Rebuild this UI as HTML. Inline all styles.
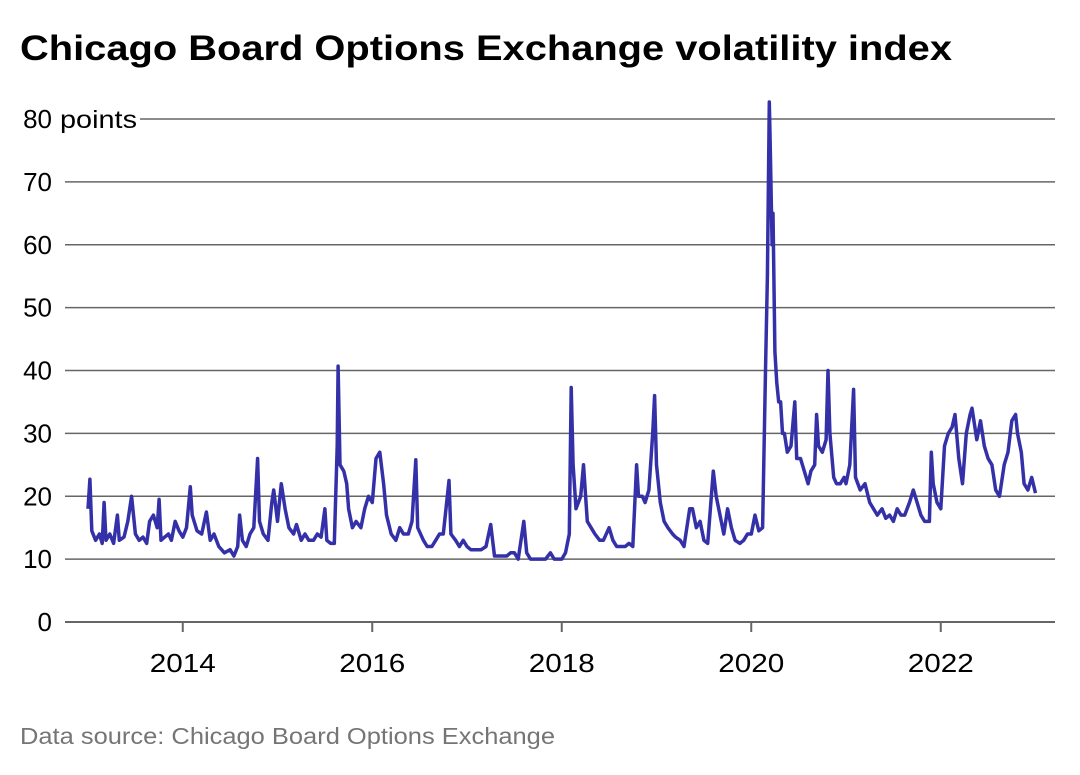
<!DOCTYPE html>
<html><head><meta charset="utf-8"><style>
body{margin:0;background:#fff;width:1080px;height:770px;overflow:hidden;font-family:"Liberation Sans",sans-serif}
</style></head><body>
<svg width="1080" height="770">
<text x="20" y="60" font-size="35" font-weight="bold" fill="#000" textLength="932" lengthAdjust="spacingAndGlyphs">Chicago Board Options Exchange volatility index</text>
<g id="grid"></g><g id="yl"></g><g id="xl"></g>
<path id="line" fill="none" stroke="#3431a8" stroke-width="3.5" stroke-linejoin="round"/>
<text x="20" y="744" font-size="23" fill="#757575" textLength="535" lengthAdjust="spacingAndGlyphs">Data source: Chicago Board Options Exchange</text>
</svg>
<script>
const yTicks=[0,10,20,30,40,50,60,70,80];
const xTicks=[2014,2016,2018,2020,2022];
const dates=[2013.0,2013.02,2013.04,2013.08,2013.12,2013.15,2013.17,2013.19,2013.23,2013.27,2013.31,2013.33,2013.38,2013.42,2013.46,2013.48,2013.5,2013.54,2013.58,2013.62,2013.65,2013.69,2013.73,2013.75,2013.77,2013.81,2013.85,2013.88,2013.92,2013.96,
2014.0,2014.04,2014.08,2014.1,2014.15,2014.2,2014.25,2014.29,2014.33,2014.38,2014.44,2014.5,2014.54,2014.58,2014.6,2014.63,2014.67,2014.71,2014.75,2014.79,2014.81,2014.85,2014.9,2014.94,2014.96,
2015.0,2015.04,2015.08,2015.12,2015.17,2015.2,2015.25,2015.29,2015.33,2015.38,2015.42,2015.46,2015.5,2015.52,2015.56,2015.6,2015.63,2015.64,2015.66,2015.7,2015.73,2015.75,2015.79,2015.83,2015.88,2015.92,2015.96,
2016.0,2016.04,2016.08,2016.12,2016.15,2016.2,2016.25,2016.29,2016.33,2016.38,2016.42,2016.46,2016.48,2016.54,2016.58,2016.63,2016.67,2016.71,2016.75,2016.81,2016.83,2016.88,2016.92,2016.96,
2017.0,2017.04,2017.1,2017.15,2017.2,2017.25,2017.29,2017.33,2017.38,2017.42,2017.46,2017.5,2017.54,2017.6,2017.63,2017.67,2017.71,2017.75,2017.79,2017.83,2017.88,2017.92,2017.96,
2018.0,2018.04,2018.08,2018.1,2018.12,2018.15,2018.2,2018.23,2018.27,2018.31,2018.35,2018.4,2018.44,2018.5,2018.54,2018.58,2018.62,2018.67,2018.71,2018.75,2018.79,2018.81,2018.85,2018.88,2018.92,2018.96,2018.98,
2019.0,2019.04,2019.08,2019.12,2019.17,2019.2,2019.25,2019.29,2019.35,2019.38,2019.42,2019.46,2019.5,2019.54,2019.6,2019.63,2019.67,2019.71,2019.75,2019.79,2019.83,2019.88,2019.92,2019.96,
2020.0,2020.04,2020.08,2020.12,2020.15,2020.17,2020.19,2020.2,2020.22,2020.23,2020.25,2020.27,2020.29,2020.31,2020.33,2020.35,2020.38,2020.42,2020.46,2020.48,2020.52,2020.56,2020.6,2020.63,2020.67,2020.69,2020.71,2020.75,2020.79,2020.81,2020.83,2020.87,2020.9,2020.94,2020.98,
2021.0,2021.04,2021.08,2021.1,2021.15,2021.2,2021.25,2021.29,2021.33,2021.38,2021.42,2021.46,2021.5,2021.54,2021.58,2021.62,2021.67,2021.71,2021.75,2021.79,2021.83,2021.88,2021.9,2021.92,2021.96,
2022.0,2022.04,2022.08,2022.12,2022.15,2022.19,2022.23,2022.27,2022.31,2022.33,2022.38,2022.42,2022.46,2022.5,2022.54,2022.58,2022.62,2022.67,2022.71,2022.75,2022.79,2022.81,2022.85,2022.88,2022.92,2022.96,2023.0];
const values=[18,22.7,14.5,13,14,12.5,19,13,14,12.5,17,13,13.5,16,20,17,14,13,13.5,12.5,16,17,15,19.5,13,13.5,14,13,16,14.5,
13.5,15,21.5,17,14.5,14,17.5,13,14,12,11,11.5,10.5,12,17,13,12,14,15,26,16,14,13,19,21,
16,22,18,15,14,15.5,13,14,13,13,14,13.5,18,13,12.5,12.5,28,40.7,25,24,22,18,15,16,15,18,20,
19,26,27,22,17,14,13,15,14,14,16,25.8,15,13,12,12,13,14,14,22.5,14,13,12,13,
12,11.5,11.5,11.5,12,15.5,10.5,10.5,10.5,10.5,11,11,10,16,11,10,10,10,10,10,11,10,10,
10,11,14,37.3,25,18,20,25,16,15,14,13,13,15,13,12,12,12,12.5,12,25,20,20,19,21,30,36,
25,19,16,15,14,13.5,13,12,18,18,15,16,13,12.5,24,20,17,14,18,15,13,12.5,13,14,
14,17,14.5,15,40,55,82.7,76,60,65,43,38,35,35,30,30,27,28,35,26,26,24,22,24,25,33,28,27,29,40,30,23,22,22,23,
22,25,37,23,21,22,19,18,17,18,16.5,17,16,18,17,17,19,21,19,17,16,16,27,22,19,
18,28,30,31,33,26,22,30,33,34,29,32,28,26,25,21,20,25,27,32,33,30,27,22,21,23,20.5];
const NS='http://www.w3.org/2000/svg';
const x=d=>88+(d-2013)*94.75;
const y=v=>622-v*6.2875;
function mk(t,a,p){const e=document.createElementNS(NS,t);for(const k in a)e.setAttribute(k,a[k]);p.appendChild(e);return e;}
const grid=document.getElementById('grid'),yl=document.getElementById('yl'),xl=document.getElementById('xl');
yTicks.forEach(v=>{
  const g=mk('line',{x1:v===80?140:65,x2:1055,y1:y(v),y2:y(v),stroke:'#666','stroke-width':v===0?2:1.5},grid);
  
  
  const t=mk('text',{x:52,y:y(v)+9,'font-size':26,'text-anchor':'end',fill:'#000'},yl);
  t.textContent=v;
  
  
});
const pl=mk('text',{x:60,y:y(80)+9,'font-size':25,fill:'#000',textLength:77,lengthAdjust:'spacingAndGlyphs'},yl);
pl.textContent='points';


xTicks.forEach(d=>{
  const l=mk('line',{x1:x(d),x2:x(d),y1:622,y2:632,stroke:'#666','stroke-width':2},xl);
  
  
  const t=mk('text',{x:x(d),y:672,'font-size':26,'text-anchor':'middle',fill:'#000',textLength:66,lengthAdjust:'spacingAndGlyphs'},xl);
  t.textContent=d;
  
  
});
document.getElementById('line').setAttribute('d',dates.map((d,i)=>(i?'L':'M')+x(d).toFixed(1)+','+y(values[i]).toFixed(1)).join(''));
</script>
</body></html>
